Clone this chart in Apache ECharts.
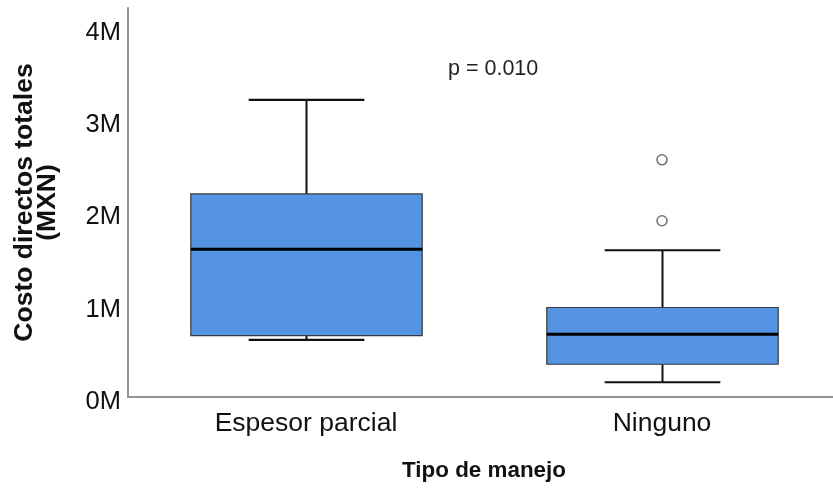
<!DOCTYPE html>
<html>
<head>
<meta charset="utf-8">
<script src="https://cdn.jsdelivr.net/npm/echarts@6/dist/echarts.min.js"></script>
<style>
html,body{margin:0;padding:0;background:#fff;overflow:hidden;}
#c{width:840px;height:491px;}
</style>
</head>
<body>
<div id="c"></div>
<script>
// Data (values in millions of MXN)
var categories = ['Espesor parcial', 'Ninguno'];
var lowWhisker = [0.62, 0.16];
var q1 = [0.665, 0.355];
var median = [1.60, 0.68];
var q3 = [2.20, 0.97];
var highWhisker = [3.22, 1.59];
var outliers = [[1, 2.57], [1, 1.91]];
var yTicks = [0, 1, 2, 3, 4];
var pText = 'p = 0.010';

var boxData = categories.map(function (c, i) {
  return [i, lowWhisker[i], q1[i], median[i], q3[i], highWhisker[i]];
});

var FONT = '"Liberation Sans", Arial, sans-serif';
var chart = echarts.init(document.getElementById('c'), null, {renderer: 'canvas'});

function renderBox(params, api) {
  var x = api.value(0);
  var lo = api.coord([x, api.value(1)]);
  var b1 = api.coord([x, api.value(2)]);
  var md = api.coord([x, api.value(3)]);
  var b3 = api.coord([x, api.value(4)]);
  var hi = api.coord([x, api.value(5)]);
  var band = api.size([1, 0])[0];
  var bw = band * 0.65;
  var cw = bw * 0.5;
  var cx = Math.round(lo[0]) + 0.5;
  return {
    type: 'group',
    children: [
      {type: 'line', shape: {x1: cx, y1: hi[1], x2: cx, y2: b3[1]}, style: {stroke: '#111', lineWidth: 2}},
      {type: 'line', shape: {x1: cx, y1: b1[1], x2: cx, y2: lo[1]}, style: {stroke: '#111', lineWidth: 2}},
      {type: 'line', shape: {x1: cx - cw / 2, y1: hi[1], x2: cx + cw / 2, y2: hi[1]}, style: {stroke: '#111', lineWidth: 2.2}},
      {type: 'line', shape: {x1: cx - cw / 2, y1: lo[1], x2: cx + cw / 2, y2: lo[1]}, style: {stroke: '#111', lineWidth: 2.2}},
      {type: 'rect', shape: {x: cx - bw / 2, y: b3[1], width: bw, height: b1[1] - b3[1]},
        style: {fill: '#5494E2', stroke: '#3a3a3a', lineWidth: 1.2}},
      {type: 'line', shape: {x1: cx - bw / 2, y1: md[1], x2: cx + bw / 2, y2: md[1]}, style: {stroke: '#000', lineWidth: 3}}
    ]
  };
}

var option = {
  backgroundColor: '#fff',
  animation: false,
  grid: {left: 128, top: 8, width: 712, height: 389, containLabel: false},
  xAxis: {
    type: 'category',
    data: categories,
    boundaryGap: true,
    axisLine: {lineStyle: {color: '#959595', width: 2}},
    axisTick: {show: false},
    axisLabel: {color: '#111', fontSize: 26.5, fontFamily: FONT, margin: 13},
    name: 'Tipo de manejo',
    nameLocation: 'middle',
    nameGap: 63,
    nameTextStyle: {color: '#111', fontSize: 22.4, fontWeight: 'bold', fontFamily: FONT}
  },
  yAxis: {
    type: 'value',
    min: 0,
    max: 4.215,
    interval: 1,
    axisLine: {show: true, lineStyle: {color: '#959595', width: 2}},
    axisTick: {show: false},
    splitLine: {show: false},
    axisLabel: {
      color: '#111', fontSize: 25.5, fontFamily: FONT, margin: 7,
      verticalAlign: 'top', lineHeight: 10,
      formatter: function (v) { return yTicks.indexOf(v) >= 0 ? v + 'M' : ''; }
    },
    name: 'Costo directos totales\n(MXN)',
    nameLocation: 'middle',
    nameRotate: 90,
    nameGap: 69,
    nameTextStyle: {color: '#111', fontSize: 26.5, fontWeight: 'bold', fontFamily: FONT, lineHeight: 23}
  },
  series: [
    {
      type: 'custom',
      renderItem: renderBox,
      data: boxData,
      encode: {x: 0, y: [1, 2, 3, 4, 5]},
      z: 2
    },
    {
      type: 'scatter',
      data: outliers,
      symbol: 'circle',
      symbolSize: 10,
      itemStyle: {color: '#fff', borderColor: '#555', borderWidth: 1.6},
      z: 3
    }
  ],
  graphic: [
    {type: 'text', left: 448, top: 58, style: {text: pText, fill: '#222', font: '21.5px ' + FONT}}
  ]
};
chart.setOption(option);
</script>
</body>
</html>
